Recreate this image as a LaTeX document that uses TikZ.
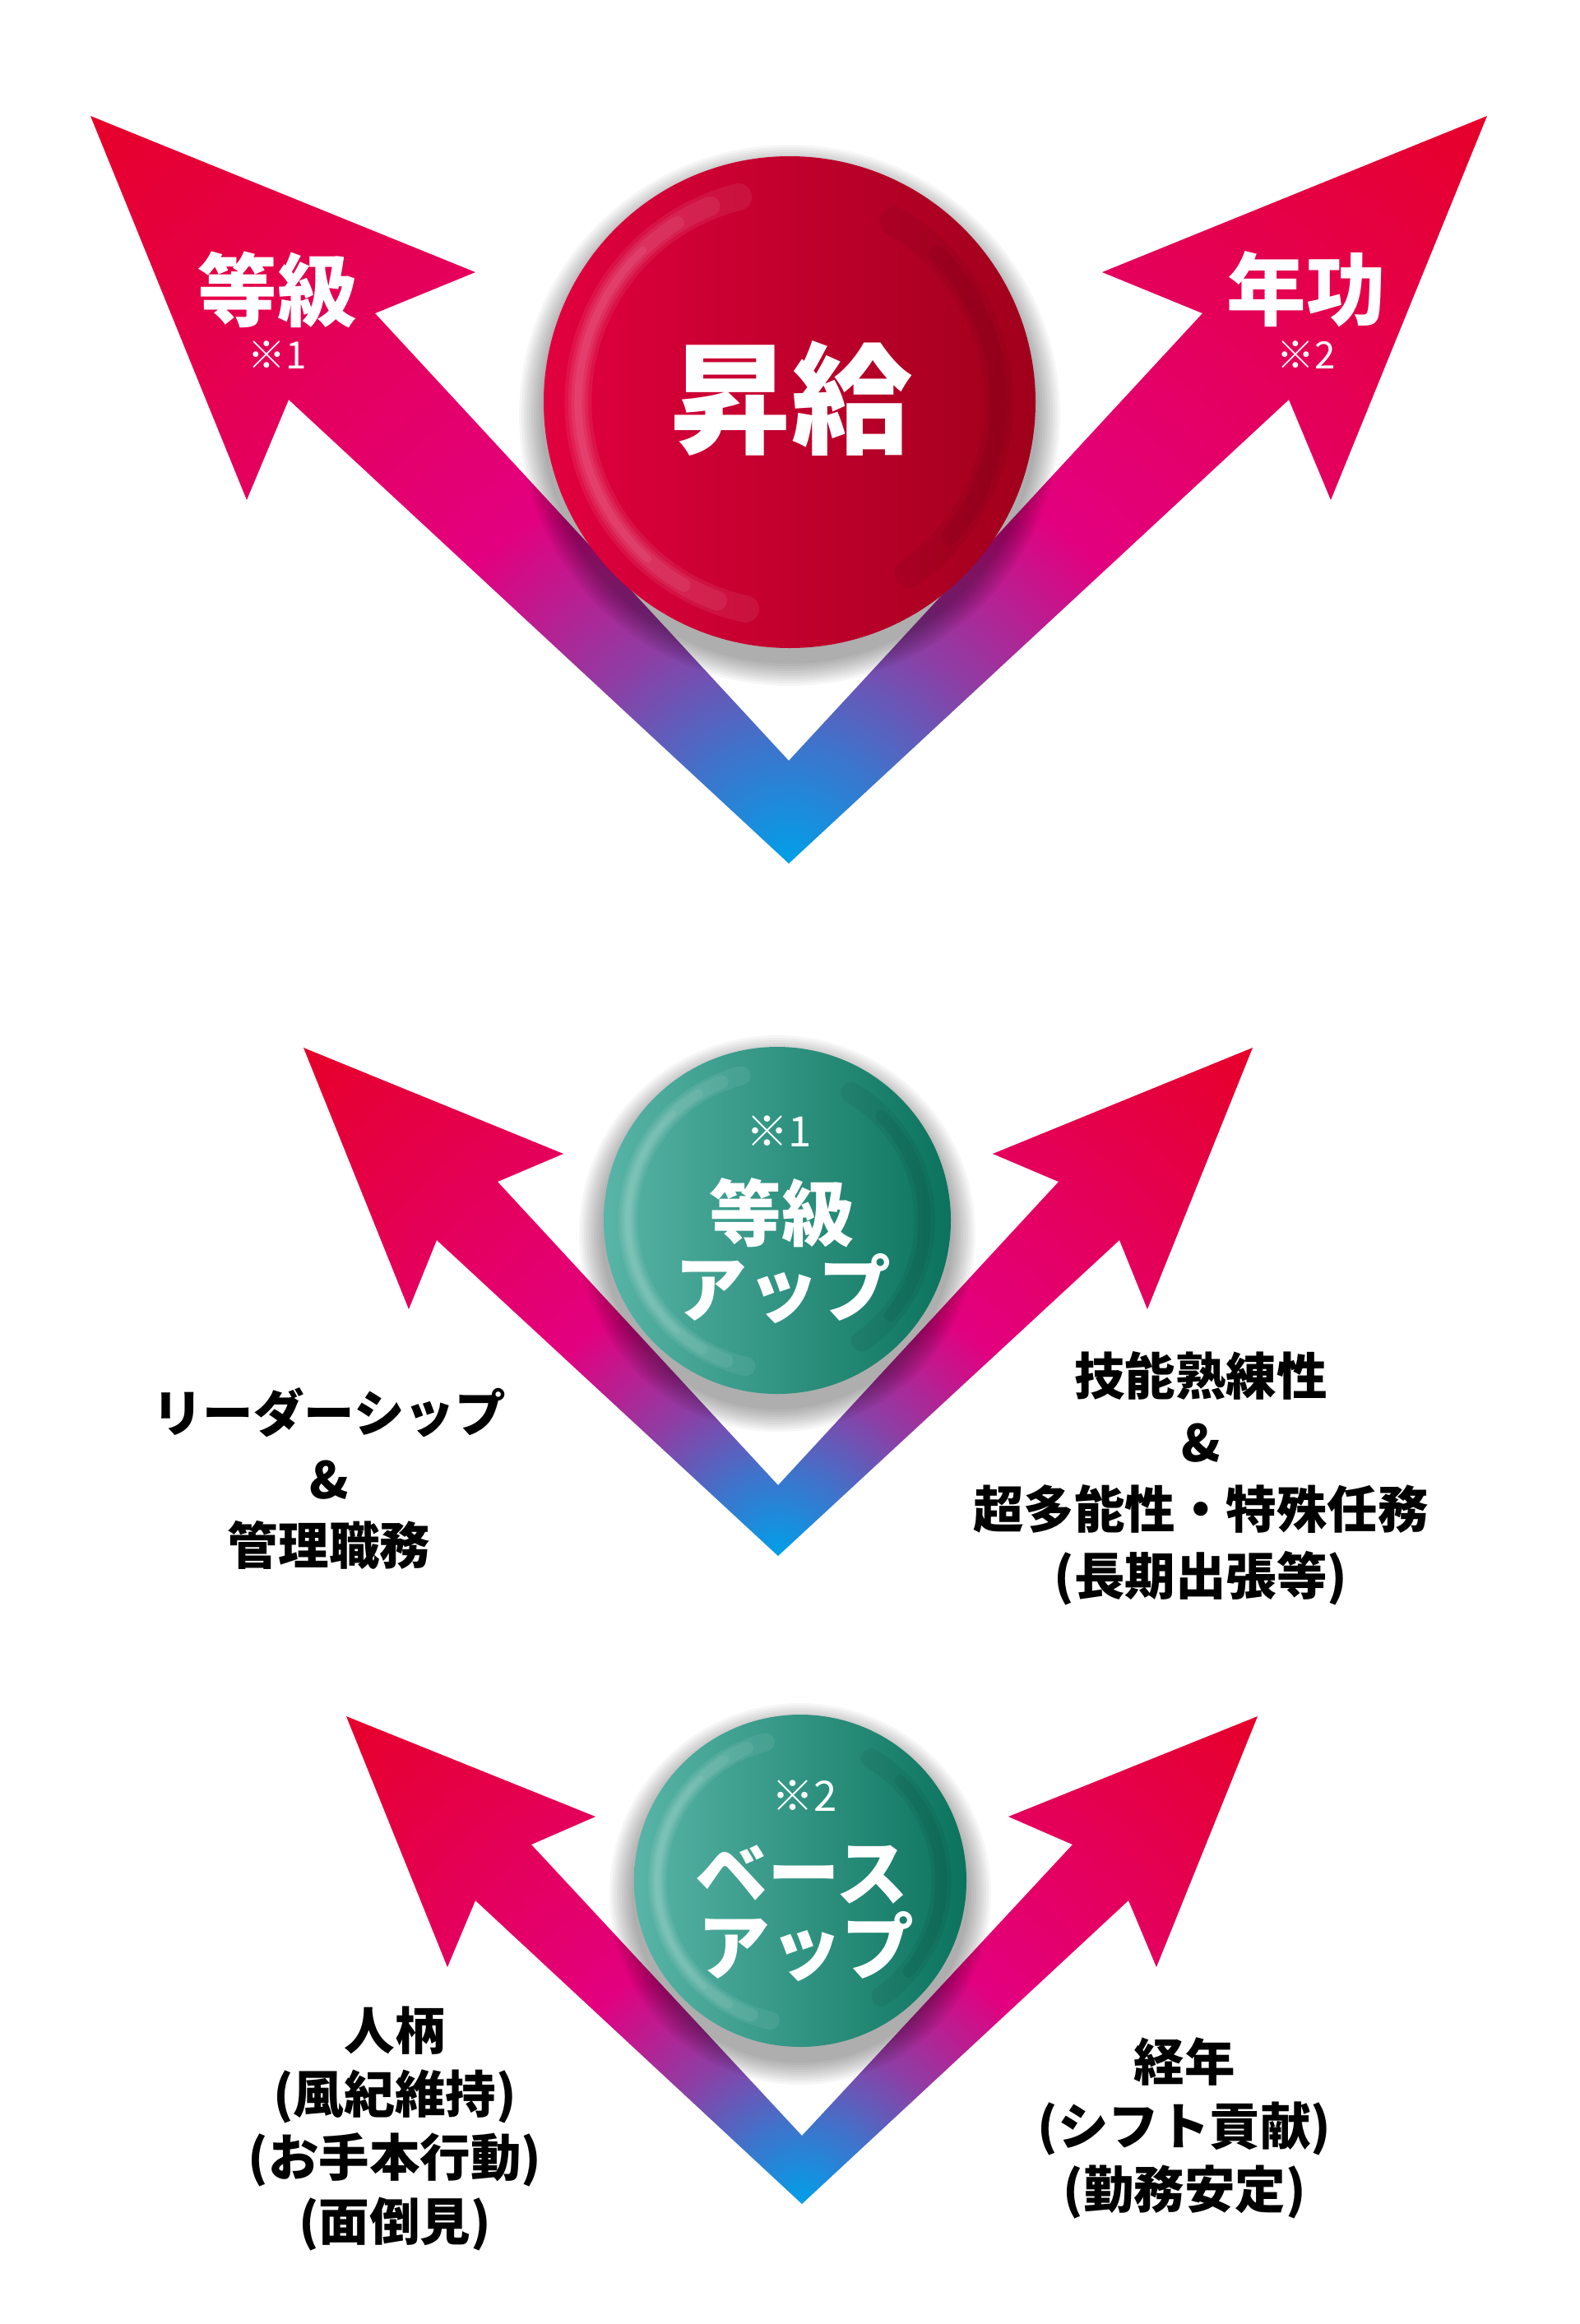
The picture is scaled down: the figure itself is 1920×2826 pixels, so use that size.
\documentclass[tikz,border=0pt]{standalone}
\usepackage{fontspec}
\setmainfont{Noto Sans CJK JP}
\usetikzlibrary{calc}

\definecolor{vred}{HTML}{E60028}
\definecolor{vmag}{HTML}{E3007F}
\definecolor{vpurple}{HTML}{8C3FA5}
\definecolor{vblue}{HTML}{3F73CB}
\definecolor{vcyan}{HTML}{00A0E9}
\definecolor{redlight}{HTML}{E2003F}
\definecolor{redmain}{HTML}{CC0033}
\definecolor{reddark}{HTML}{A0001B}
\definecolor{teallight}{HTML}{58B5A7}
\definecolor{tealmain}{HTML}{33998A}
\definecolor{tealdark}{HTML}{0B735D}

\pgfdeclareradialshading{vfan}{\pgfpoint{0bp}{0bp}}{color(0bp)=(vcyan); color(3bp)=(vblue); color(6bp)=(vpurple); color(10.5bp)=(vmag); color(25bp)=(vred); color(50bp)=(vred)}

% ball: centre, radius in px, colour prefix
\newcommand{\drawball}[3]{%
  \foreach \k in {0,...,9}
    \fill[black,opacity=0.035] ($#1+(0,16)$) circle[radius=(#2+30-3*\k)*0.1mm];
  \shade[left color=#3light, middle color=#3main, right color=#3dark] #1 circle[radius=#2*0.1mm];
  \begin{scope}[line cap=round]
    \clip #1 circle[radius=#2*0.1mm];
    % soft light band on the left
    \foreach \w/\a/\b in {0.011/104/258, 0.008/112/250, 0.0055/122/240, 0.003/134/228}
      \draw[white,opacity=0.07,line width=#2*\w mm] #1 ++(\a:#2*0.086mm) arc[start angle=\a, end angle=\b, radius=#2*0.086mm];
    % darker band on the right
    \foreach \w/\a/\b in {0.012/-55/60, 0.007/-40/45}
      \draw[black,opacity=0.05,line width=#2*\w mm] #1 ++(\a:#2*0.085mm) arc[start angle=\a, end angle=\b, radius=#2*0.085mm];
  \end{scope}
}

\begin{document}
\begin{tikzpicture}[x=0.1mm, y=-0.1mm,
  bigword/.style={inner sep=0pt, text=white, font=\bfseries\fontsize{42}{48}\selectfont},
  headword/.style={inner sep=0pt, text=white, font=\bfseries\fontsize{27.5}{32}\selectfont},
  ballword/.style={inner sep=0pt, text=white, font=\bfseries\fontsize{25}{30}\selectfont},
  noteword/.style={inner sep=0pt, text=white, font=\fontsize{#1}{16}\selectfont},
  sideword/.style={inner sep=0pt, align=center, font=\bfseries\fontsize{17.5}{#1}\selectfont}]

\fill[white] (0,0) rectangle (1920,2826);
\useasboundingbox (0,0) rectangle (1920,2826);

% top V
\begin{scope}
\clip (110,141) -- (578,331) -- (456,381) -- (959,925) -- (1462,381) -- (1340,331) -- (1808,141) -- (1618,608) -- (1567,486) -- (959,1050) -- (351,486) -- (300,608) -- cycle;
\shade[shading=vfan] (959,1050) circle[radius=125mm];
\end{scope}

% middle V
\begin{scope}
\clip (369,1274) -- (685,1403) -- (605,1437) -- (946,1806) -- (1287,1437) -- (1207,1403) -- (1523,1274) -- (1395,1592) -- (1361,1508) -- (946,1892) -- (531,1508) -- (497,1592) -- cycle;
\shade[shading=vfan] (946,1892) circle[radius=85mm];
\end{scope}

% bottom V
\begin{scope}
\clip (421,2087) -- (724,2209) -- (646,2243) -- (975,2597) -- (1304,2243) -- (1226,2209) -- (1529,2087) -- (1406,2392) -- (1372,2311) -- (975,2680) -- (578,2311) -- (544,2392) -- cycle;
\shade[shading=vfan] (975,2680) circle[radius=82mm];
\end{scope}

\drawball{(960,489)}{299}{red}
\drawball{(945,1484)}{211}{teal}
\drawball{(973,2287)}{202}{teal}

% texts on top V
\node[bigword] (shokyu) at (962,484) {昇給};
\node[headword] (tokyu) at (337,352) {等級};
\node[noteword=13] (kome1) at (337,432) {※1};
\node[headword] (nenko) at (1588,352) {年功};
\node[noteword=13] (kome2) at (1588,432) {※2};

% middle ball
\node[noteword=14.5] (kome1b) at (947,1376) {※1};
\node[ballword] (tokyub) at (950,1475) {等級};
\node[ballword] (upa) at (952,1567) {アップ};

% bottom ball
\node[noteword=14.5] (kome2b) at (978,2184) {※2};
\node[ballword] (base) at (975,2279) {ベース};
\node[ballword] (upb) at (980,2367) {アップ};

% side texts
\node[sideword=23] (leader) at (400,1798) {リーダーシップ\\\&\\管理職務};
\node[sideword=23] (skill) at (1460,1798) {技能熟練性\\\&\\超多能性・特殊任務\\(長期出張等)};
\node[sideword=22] (hitogara) at (480,2588) {人柄\\(風紀維持)\\(お手本行動)\\(面倒見)};
\node[sideword=22] (keinen) at (1440,2588) {経年\\(シフト貢献)\\(勤務安定)};
\end{tikzpicture}
\end{document}
